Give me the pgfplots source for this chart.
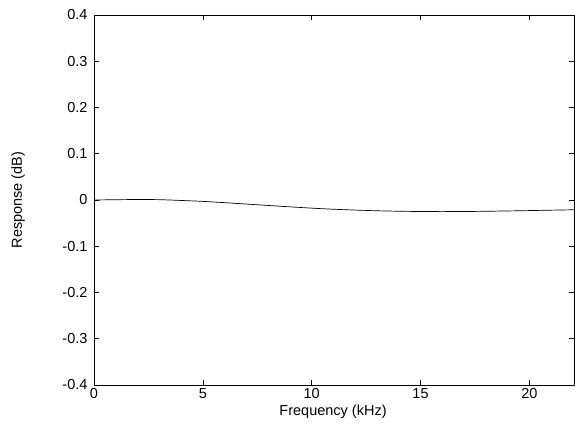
\documentclass[border=0pt]{standalone}
\usepackage{fontspec}
\setmainfont{Liberation Sans}
\usepackage{pgfplots}
\pgfplotsset{compat=1.18}
\usetikzlibrary{calc}
\begin{document}
\begin{tikzpicture}[x=1pt,y=1pt]
\begin{axis}[
  name=ax,
  scale only axis,
  width=480pt, height=370pt,
  xmin=0, xmax=22.05, ymin=-0.4, ymax=0.4,
  xtick={0,5,10,15,20},
  ytick={-0.4,-0.3,-0.2,-0.1,0,0.1,0.2,0.3,0.4},
  yticklabel style={/pgf/number format/fixed,/pgf/number format/precision=1},
  /pgf/number format/assume math mode=true,
  tick align=inside,
  tick pos=both,
  major tick length=5pt,
  tick style={black, line width=0.6pt},
  axis line style={black, line width=0.8pt},
  ticklabel style={font=\fontsize{14.5}{16}\selectfont},
  label style={font=\fontsize{14.5}{16}\selectfont},
  xlabel={Frequency (kHz)},
  ylabel={Response (dB)},
  xlabel style={at={(axis description cs:0.498,-0.073)}, anchor=center},
  ylabel style={at={(axis description cs:-0.158,0.5)}, anchor=center, rotate=0},
  xticklabel style={yshift=0pt},
  yticklabel style={xshift=-3pt},
  axis on top,
]
\addplot[black, line width=0.7pt, smooth] coordinates {
(0,0) (1,0.0006) (2,0.001) (3,0.0007) (4,-0.001) (5,-0.003) (6,-0.0058)
(7,-0.0088) (8,-0.0118) (9,-0.0148) (10,-0.0176) (11,-0.0200) (12,-0.0218)
(13,-0.0233) (14,-0.0243) (15,-0.0249) (16,-0.0251) (17,-0.0249) (18,-0.0244)
(19,-0.0237) (20,-0.0229) (21,-0.0220) (22.05,-0.0211)
};
\end{axis}
\useasboundingbox ($(ax.south west)+(-94pt,-44pt)$) rectangle ($(ax.north east)+(1pt,15pt)$);
\end{tikzpicture}
\end{document}
